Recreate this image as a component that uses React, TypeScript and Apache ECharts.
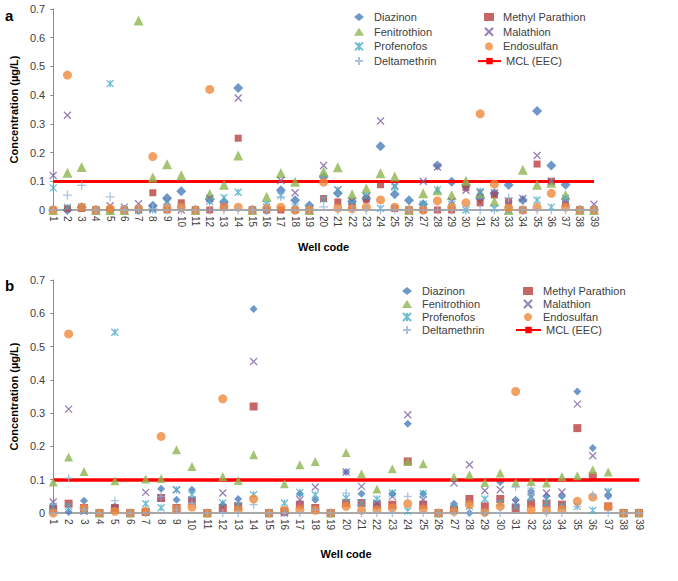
import React, { useEffect, useRef } from "react";
import * as echarts from "echarts";

const wells = ["1","2","3","4","5","6","7","8","9","10","11","12","13","14","15","16","17","18","19","20","21","22","23","24","25","26","27","28","29","30","31","32","33","34","35","36","37","38","39"];
const yTicks = [0, 0.1, 0.2, 0.3, 0.4, 0.5, 0.6, 0.7];
const MCL = 0.1;

// Panel a
const diazinonA = [0, 0, 0.01, 0, 0, 0, 0, 0.015, 0.042, 0.065, 0, 0.037, 0.028, 0.425, 0, 0, 0.069, 0.034, 0.016, 0.115, 0.058, 0.03, 0.04, 0.222, 0.055, 0.034, 0.02, 0.155, 0.098, 0.085, 0.04, 0.058, 0.087, 0.035, 0.345, 0.155, 0.088, 0, 0];
const methylParathionA = [0, 0.005, 0.005, 0, 0, 0, 0, 0.06, 0, 0.025, 0, 0, 0.01, 0.25, 0, 0, 0, 0, 0, 0.04, 0.028, 0.012, 0.037, 0.088, 0.005, 0, 0, 0, 0, 0.078, 0.025, 0.052, 0.03, 0, 0.16, 0.1, 0.022, 0, 0];
const fenitrothionA = [0, 0.13, 0.15, 0, 0, 0, 0.66, 0.113, 0.159, 0.121, 0, 0.056, 0.088, 0.19, 0, 0.046, 0.129, 0.098, 0, 0.134, 0.149, 0.055, 0.075, 0.128, 0.117, 0, 0.058, 0.069, 0.052, 0.102, 0.06, 0.03, 0, 0.14, 0.088, 0.095, 0.052, 0, 0];
const malathionA = [0.12, 0.33, 0.01, 0, 0.015, 0.01, 0.022, 0.005, 0.03, 0, 0, 0.04, 0.01, 0.39, 0, 0.01, 0.103, 0.06, 0, 0.155, 0.07, 0.03, 0.045, 0.31, 0.085, 0, 0.1, 0.15, 0.03, 0.069, 0.06, 0.06, 0.02, 0.04, 0.19, 0.1, 0.03, 0, 0.02];
const profenofosA = [0.077, 0.01, 0.01, 0, 0.44, 0, 0, 0, 0.025, 0.01, 0, 0.03, 0.043, 0.062, 0, 0.02, 0.05, 0.01, 0, 0.038, 0.07, 0.02, 0.05, 0.005, 0.08, 0, 0.02, 0.07, 0.02, 0, 0.065, 0.005, 0, 0, 0.035, 0.01, 0.04, 0, 0];
const endosulfanA = [0, 0.47, 0.01, 0, 0.005, 0, 0.005, 0.186, 0.005, 0.01, 0, 0.42, 0.01, 0.01, 0, 0.005, 0.01, 0, 0, 0.097, 0.007, 0.005, 0.01, 0.035, 0.01, 0, 0, 0.032, 0.01, 0.025, 0.335, 0.09, 0.007, 0, 0.01, 0.058, 0.01, 0, 0];
const deltamethrinA = [0, 0.052, 0.086, 0, 0.046, 0, 0, 0.005, 0, 0, 0, 0, 0, 0, 0, 0, 0.046, 0, 0, 0.011, 0, 0, 0, 0, 0, 0, 0, 0, 0, 0, 0, 0, 0.042, 0, 0, 0, 0, 0, 0];

// Panel b
const diazinonB = [0.015, 0.003, 0.037, 0, 0.02, 0, 0, 0.073, 0.04, 0.07, 0, 0.025, 0.042, 0.613, 0, 0, 0.058, 0.04, 0, 0.123, 0.058, 0.02, 0.058, 0.268, 0.058, 0, 0.028, 0, 0, 0.093, 0.04, 0.065, 0.05, 0.05, 0.365, 0.195, 0.05, 0, 0];
const methylParathionB = [0.012, 0.028, 0.015, 0, 0.015, 0, 0.003, 0.045, 0.015, 0.035, 0, 0.015, 0.02, 0.32, 0, 0.005, 0.025, 0.015, 0, 0.03, 0.03, 0.024, 0.025, 0.155, 0.025, 0, 0.01, 0.042, 0.02, 0.042, 0.015, 0.028, 0.028, 0.025, 0.255, 0.11, 0.02, 0, 0];
const fenitrothionB = [0.093, 0.168, 0.125, 0, 0.097, 0, 0.102, 0.104, 0.19, 0.14, 0, 0.11, 0.098, 0.175, 0, 0.088, 0.145, 0.155, 0, 0.182, 0.118, 0.072, 0.133, 0.155, 0.148, 0, 0.108, 0.115, 0.092, 0.12, 0.092, 0.095, 0.09, 0.11, 0.112, 0.13, 0.123, 0, 0];
const malathionB = [0.033, 0.312, 0.005, 0, 0.01, 0, 0.062, 0.045, 0.07, 0.04, 0, 0.06, 0.02, 0.455, 0, 0, 0.04, 0.078, 0, 0.123, 0.08, 0.03, 0.05, 0.295, 0.04, 0, 0.09, 0.145, 0.067, 0.07, 0.03, 0.05, 0.06, 0.063, 0.327, 0.172, 0.062, 0, 0];
const profenofosB = [0.02, 0.02, 0.01, 0, 0.543, 0, 0.028, 0.016, 0.07, 0.055, 0, 0.03, 0.022, 0.055, 0, 0.03, 0.062, 0.055, 0, 0.045, 0.03, 0.042, 0.06, 0.006, 0.058, 0, 0.015, 0.02, 0.042, 0.03, 0.02, 0.045, 0.03, 0.02, 0.02, 0.008, 0.065, 0, 0];
const endosulfanB = [0, 0.538, 0.015, 0, 0.005, 0, 0.005, 0.23, 0.012, 0.018, 0, 0.343, 0.01, 0.042, 0, 0.008, 0.01, 0.008, 0, 0.02, 0.008, 0.01, 0.015, 0.028, 0.012, 0, 0.005, 0.025, 0.002, 0.02, 0.365, 0.01, 0.008, 0.01, 0.035, 0.048, 0.018, 0, 0];
const deltamethrinB = [0, 0.105, 0.01, 0, 0.037, 0, 0, 0.05, 0.01, 0.03, 0, 0, 0, 0.025, 0, 0, 0, 0.01, 0, 0.06, 0, 0, 0, 0.05, 0, 0, 0, 0, 0, 0, 0.078, 0.075, 0, 0, 0.02, 0.055, 0, 0, 0];

const FONT = "'Liberation Sans', Arial, sans-serif";
const TXT = "#404040";
const AXIS = "#8c8c8c";

const X_PATH = "path://M0,0L10,10M10,0L0,10";
const STAR_PATH = "path://M0,0L10,10M10,0L0,10M5,0L5,10";
const PLUS_PATH = "path://M5,0L5,10M0,5L10,5";

type Def = { name: string; color: string; symbol: string; stroke?: boolean; sizeA: number; sizeB: number };
const defs: Def[] = [
  { name: "Diazinon", color: "#4a7ebb", symbol: "diamond", sizeA: 10, sizeB: 8 },
  { name: "Methyl Parathion", color: "#b8413e", symbol: "rect", sizeA: 7, sizeB: 8 },
  { name: "Fenitrothion", color: "#8fb550", symbol: "triangle", sizeA: 10, sizeB: 9 },
  { name: "Malathion", color: "#7d5fa0", symbol: X_PATH, stroke: true, sizeA: 7, sizeB: 7 },
  { name: "Profenofos", color: "#4bacc6", symbol: STAR_PATH, stroke: true, sizeA: 7, sizeB: 7 },
  { name: "Endosulfan", color: "#f08a3c", symbol: "circle", sizeA: 9, sizeB: 9 },
  { name: "Deltamethrin", color: "#95b3d7", symbol: PLUS_PATH, stroke: true, sizeA: 9, sizeB: 8 },
];
const dataA = [diazinonA, methylParathionA, fenitrothionA, malathionA, profenofosA, endosulfanA, deltamethrinA];
const dataB = [diazinonB, methylParathionB, fenitrothionB, malathionB, profenofosB, endosulfanB, deltamethrinB];

function scatterSeries(idx: number, data: number[][]) {
  return defs.map((d, i) => ({
    type: "scatter",
    name: d.name,
    xAxisIndex: idx,
    yAxisIndex: idx,
    data: data[i],
    symbol: d.symbol,
    symbolSize: idx === 0 ? d.sizeA : d.sizeB,
    itemStyle: d.stroke
      ? { color: "rgba(0,0,0,0)", borderColor: d.color, borderWidth: 1.3 }
      : { color: d.color },
    z: 3 + i,
  }));
}

function mclSeries(idx: number, width: number) {
  return {
    type: "line",
    name: "MCL (EEC)",
    xAxisIndex: idx,
    yAxisIndex: idx,
    data: [],
    symbol: "rect",
    symbolSize: 4,
    itemStyle: { color: "#ff0000" },
    lineStyle: { color: "#ff0000", width: 2 },
    z: 2,
    markLine: {
      silent: true,
      symbol: "none",
      label: { show: false },
      lineStyle: { color: "#ff0000", width, type: "solid" },
      data: [{ yAxis: MCL }],
    },
  };
}

function legendOf(names: string[], left: number, top: number, gap: number, iconW: number, pad: number) {
  return {
    orient: "vertical",
    left,
    top,
    padding: 0,
    itemGap: gap,
    itemWidth: iconW,
    itemHeight: 8,
    selectedMode: false,
    data: names,
    textStyle: { fontFamily: FONT, fontSize: 11, color: TXT, lineHeight: 12, padding: [0, 0, 0, pad] },
  };
}

function xAxisOf(idx: number, gap: number) {
  return {
    type: "category",
    gridIndex: idx,
    data: wells,
    boundaryGap: false,
    name: "Well code",
    nameLocation: "middle",
    nameGap: gap,
    nameTextStyle: { fontFamily: FONT, fontSize: 11, fontWeight: "bold", color: "#000" },
    axisLine: { lineStyle: { color: AXIS, width: 1.5 } },
    axisTick: { show: false },
    axisLabel: { interval: 0, rotate: -90, fontFamily: FONT, fontSize: 10, color: TXT, margin: 6 },
    splitLine: { show: false },
  };
}

function yAxisOf(idx: number, gap: number) {
  return {
    type: "value",
    gridIndex: idx,
    min: yTicks[0],
    max: yTicks[yTicks.length - 1],
    interval: 0.1,
    name: "Concentration (µg/L)",
    nameLocation: "middle",
    nameGap: gap,
    nameTextStyle: { fontFamily: FONT, fontSize: 11, fontWeight: "bold", color: "#000" },
    axisLine: { show: true, lineStyle: { color: AXIS, width: 1 } },
    axisTick: { show: true, length: 3, lineStyle: { color: AXIS } },
    axisLabel: {
      fontFamily: FONT,
      fontSize: 11,
      color: TXT,
      margin: 8,
      formatter: (v: number) => (v === 0 ? "0" : v.toFixed(1)),
    },
    splitLine: { show: false },
  };
}

export default function App() {
  const ref = useRef<HTMLDivElement>(null);
  useEffect(() => {
    if (!ref.current) return;
    const chart = echarts.init(ref.current, undefined, { renderer: "svg" });
    const col1 = ["Diazinon", "Fenitrothion", "Profenofos", "Deltamethrin"];
    const col2 = ["Methyl Parathion", "Malathion", "Endosulfan"];
    const col3 = ["MCL (EEC)"];
    const rowA = 14.7;
    const rowB = 13;
    chart.setOption({
      animation: false,
      backgroundColor: "#ffffff",
      grid: [
        { left: 46, top: 9, width: 548, height: 201 },
        { left: 50, top: 280, width: 589, height: 233 },
      ],
      xAxis: [xAxisOf(0, 31), xAxisOf(1, 35)],
      yAxis: [yAxisOf(0, 29), yAxisOf(1, 33)],
      legend: [
        legendOf(col1, 354, 11, rowA - 12, 10, 5),
        legendOf(col2, 484, 11, rowA - 12, 10, 4),
        legendOf(col3, 477, 11 + 3 * rowA, 0, 23, 0),
        legendOf(col1, 402, 285, rowB - 12, 10, 5),
        legendOf(col2, 523, 285, rowB - 12, 10, 5),
        legendOf(col3, 515, 285 + 3 * rowB, 0, 25, 0),
      ],
      graphic: [
        { type: "text", left: 5, top: 8, style: { text: "a", fontFamily: FONT, fontSize: 15, fontWeight: "bold", fill: "#000" } },
        { type: "text", left: 5, top: 278, style: { text: "b", fontFamily: FONT, fontSize: 15, fontWeight: "bold", fill: "#000" } },
      ],
      series: [
        mclSeries(0, 3),
        ...scatterSeries(0, dataA),
        mclSeries(1, 3.5),
        ...scatterSeries(1, dataB),
      ],
    });
    return () => chart.dispose();
  }, []);
  return <div ref={ref} style={{ width: 678, height: 581, position: "absolute", left: 0, top: 0 }} />;
}
